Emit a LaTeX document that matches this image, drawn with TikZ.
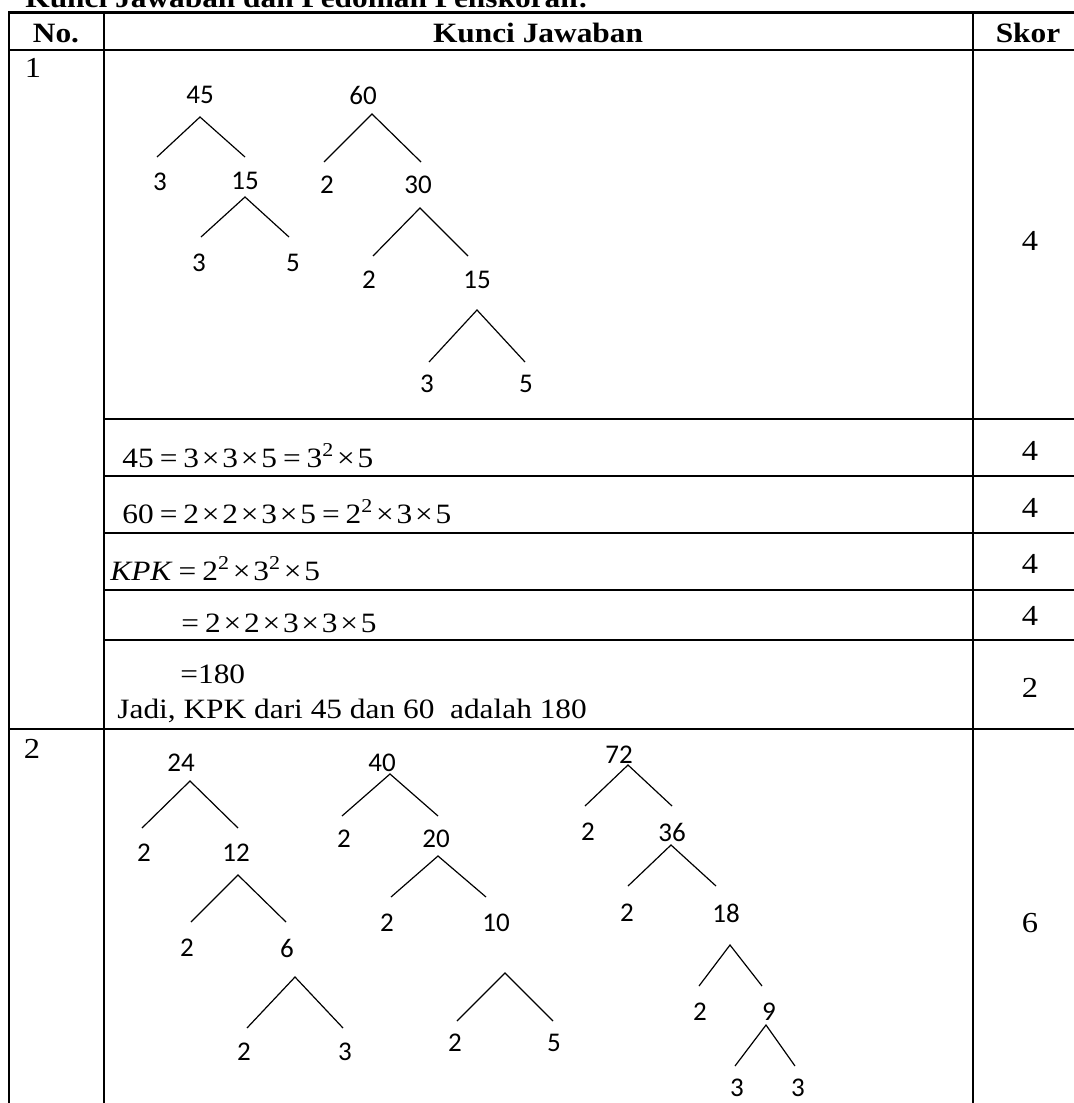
\documentclass[tikz,border=0pt]{standalone}
\usepackage{fontspec}
\newfontfamily\tnr[FakeStretch=1.12]{Liberation Serif}
\newfontfamily\carl{Carlito}
\newcommand\tm{\hspace{1.4pt}×\hspace{1.4pt}}
\newcommand\eq{\hspace{3pt}=\hspace{3pt}}
\newcommand\fork[4]{%
  \coordinate (#1a) at (#2);
  \coordinate (#1l) at (#3);
  \coordinate (#1r) at (#4);
  \draw[br] (#1l) -- (#1a) -- (#1r);}
\begin{document}
\begin{tikzpicture}[x=0.5pt,y=-0.5pt,
  grid/.style={line width=1.3pt},
  br/.style={line width=0.6pt},
  num/.style={font=\carl\fontsize{13.5}{15}\selectfont, inner sep=0pt},
  txt/.style={font=\tnr\fontsize{14}{16}\selectfont, inner sep=0pt, anchor=base west},
  sc/.style={font=\tnr\fontsize{14.5}{16}\selectfont, inner sep=0pt, anchor=base},
  hd/.style={font=\tnr\bfseries\fontsize{14}{16}\selectfont, inner sep=0pt, anchor=base}]
\useasboundingbox (0,0) rectangle (1074,1103);
\clip (0,0) rectangle (1074,1103);
\fill[white] (0,0) rectangle (1074,1103);

% title
\node[hd, anchor=base west] (title) at (25,8) {Kunci Jawaban dan Pedoman Penskoran:};

% table grid
\draw[grid] (9,1110) -- (9,12.5) -- (1090,12.5);
\draw[grid] (9,50) -- (1090,50);
\draw[grid] (104,12.5) -- (104,1110);
\draw[grid] (973,12.5) -- (973,1110);
\draw[grid] (104,419) -- (1090,419);
\draw[grid] (104,476) -- (1090,476);
\draw[grid] (104,533) -- (1090,533);
\draw[grid] (104,590) -- (1090,590);
\draw[grid] (104,640) -- (1090,640);
\draw[grid] (9,729) -- (1090,729);

% header
\node[hd] (hno) at (56,42) {No.};
\node[hd] (hkj) at (538,42) {Kunci Jawaban};
\node[hd] (hsk) at (1028,42) {Skor};

% row labels
\node[sc] (no1) at (33,77) {1};
\node[sc] (no2) at (32,758) {2};

% scores
\node[sc] (s1) at (1030,250) {4};
\node[sc] (s2) at (1030,460) {4};
\node[sc] (s3) at (1030,517) {4};
\node[sc] (s4) at (1030,573) {4};
\node[sc] (s5) at (1030,625) {4};
\node[sc] (s6) at (1030,697) {2};
\node[sc] (s7) at (1030,932) {6};

% text rows
\node[txt] (r1) at (122,467) {45\eq 3\tm 3\tm 5\eq 3\textsuperscript{2}\tm 5};
\node[txt] (r2) at (122,523) {60\eq 2\tm 2\tm 3\tm 5\eq 2\textsuperscript{2}\tm 3\tm 5};
\node[txt] (r3) at (110,580) {\textit{KPK}\eq 2\textsuperscript{2}\tm 3\textsuperscript{2}\tm 5};
\node[txt] (r4) at (181,632) {=\hspace{3pt}2\tm 2\tm 3\tm 3\tm 5};
\node[txt] (r5) at (180,683) {=180};
\node[txt] (r6) at (117,718) {Jadi, KPK dari 45 dan 60\ \ adalah 180};

% ---- tree 45
\node[num] (t45) at (200,95) {45};
\fork{f1}{200,117}{157,157}{245,157}
\node[num] (t45a) at (160,182) {3};
\node[num] (t45b) at (245,181) {15};
\fork{f2}{245,197}{201,237}{289,237}
\node[num] (t45c) at (199,263) {3};
\node[num] (t45d) at (293,263) {5};

% ---- tree 60
\node[num] (t60) at (363,95) {60};
\fork{f3}{372,114}{324,162}{421,162}
\node[num] (t60a) at (327,185) {2};
\node[num] (t60b) at (418,185) {30};
\fork{f4}{420,208}{373,256}{468,256}
\node[num] (t60c) at (369,280) {2};
\node[num] (t60d) at (477,280) {15};
\fork{f5}{477,310}{429,362}{525,362}
\node[num] (t60e) at (427,384) {3};
\node[num] (t60f) at (526,384) {5};

% ---- tree 24
\node[num] (t24) at (181,763) {24};
\fork{f6}{190,781}{142,828}{238,828}
\node[num] (t24a) at (144,853) {2};
\node[num] (t24b) at (236,853) {12};
\fork{f7}{238,875}{191,922}{286,922}
\node[num] (t24c) at (187,948) {2};
\node[num] (t24d) at (287,948) {6};
\fork{f8}{295,977}{247,1028}{343,1028}
\node[num] (t24e) at (244,1052) {2};
\node[num] (t24f) at (345,1052) {3};

% ---- tree 40
\node[num] (t40) at (382,763) {40};
\fork{f9}{390,774}{342,816}{438,816}
\node[num] (t40a) at (344,839) {2};
\node[num] (t40b) at (436,839) {20};
\fork{f10}{438,856}{391,897}{486,897}
\node[num] (t40c) at (387,923) {2};
\node[num] (t40d) at (496,923) {10};
\fork{f11}{505,973}{457,1021}{553,1021}
\node[num] (t40e) at (455,1043) {2};
\node[num] (t40f) at (554,1043) {5};

% ---- tree 72
\node[num] (t72) at (619,755) {72};
\fork{f12}{628,765}{585,806}{672,806}
\node[num] (t72a) at (588,832) {2};
\node[num] (t72b) at (672,832) {36};
\fork{f13}{671,845}{628,886}{716,886}
\node[num] (t72c) at (627,913) {2};
\node[num] (t72d) at (726,913) {18};
\fork{f14}{730,945}{699,986}{762,986}
\node[num] (t72e) at (700,1012) {2};
\node[num] (t72f) at (769,1012) {9};
\fork{f15}{766,1025}{735,1066}{795,1066}
\node[num] (t72g) at (737,1088) {3};
\node[num] (t72h) at (798,1088) {3};
\end{tikzpicture}
\end{document}
